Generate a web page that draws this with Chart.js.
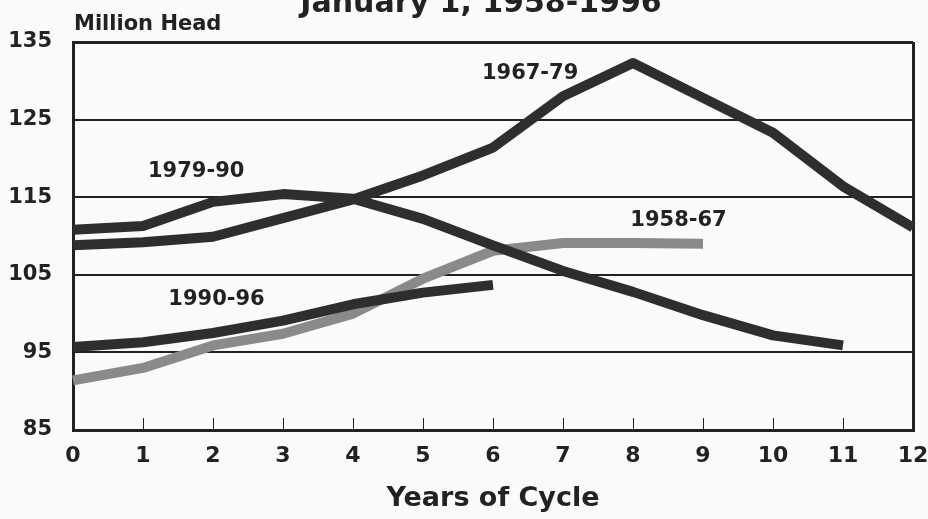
<!DOCTYPE html>
<html>
<head>
<meta charset="utf-8">
<script src="https://cdn.jsdelivr.net/npm/chart.js@4.4.1/dist/chart.umd.min.js"></script>
<style>
  html, body { margin: 0; padding: 0; background: #fafafa; }
  #wrap { width: 928px; height: 519px; }
</style>
</head>
<body>
<div id="wrap"><canvas id="cycleChart" width="928" height="519"></canvas></div>
<script>
// Years into each cattle cycle
const years = ['0', '1', '2', '3', '4', '5', '6', '7', '8', '9', '10', '11', '12'];
const yTicks = [85, 95, 105, 115, 125, 135];

// Cattle inventory, million head, by cycle
const cycle5867 = [91.4, 93.0, 95.9, 97.4, 100.0, 104.5, 108.1, 109.1, 109.1, 109.0];
const cycle6779 = [108.8, 109.2, 109.9, 112.3, 114.7, 117.8, 121.4, 128.0, 132.3, 127.8, 123.3, 116.4, 111.1];
const cycle7990 = [110.8, 111.3, 114.4, 115.4, 114.8, 112.2, 108.8, 105.5, 102.8, 99.8, 97.2, 95.9];
const cycle9096 = [95.7, 96.3, 97.5, 99.1, 101.2, 102.7, 103.7];

// Where the cycle names sit, in data units (year, million head)
const seriesLabels = [
    { text: '1967-79', x: 6.53, y: 131.0 },
    { text: '1979-90', x: 1.76, y: 118.4 },
    { text: '1958-67', x: 8.65, y: 112.1 },
    { text: '1990-96', x: 2.05, y: 101.9 }
];

const ink = '#222222';
const dark = '#2e2e2e';
const grey = '#8a8a8a';
const boldFont = size => ({ family: 'DejaVu Sans', weight: 'bold', size: size });

// background, inside tick marks and all the free text
const decorations = {
    id: 'decorations',
    beforeDraw(chart) {
        const c = chart.ctx;
        c.save();
        c.fillStyle = '#fafafa';
        c.fillRect(0, 0, chart.width, chart.height);
        c.restore();
    },
    beforeDatasetsDraw(chart) {
        const c = chart.ctx;
        const xs = chart.scales.x;
        const bottom = chart.chartArea.bottom;
        c.save();
        c.strokeStyle = ink;
        c.lineWidth = 1;
        for (let i = 1; i < years.length - 1; i++) {
            const px = Math.round(xs.getPixelForValue(i)) + 0.5;
            c.beginPath();
            c.moveTo(px, bottom);
            c.lineTo(px, bottom - 12);
            c.stroke();
        }
        c.restore();
    },
    afterDraw(chart) {
        const c = chart.ctx;
        const xs = chart.scales.x;
        const ys = chart.scales.y;
        c.save();
        c.fillStyle = ink;

        c.font = 'bold 30px "DejaVu Sans"';
        c.textAlign = 'center';
        c.textBaseline = 'alphabetic';
        c.fillText('January 1, 1958-1996', 481, 12);

        c.font = 'bold 21px "DejaVu Sans"';
        c.textAlign = 'left';
        c.fillText('Million Head', chart.chartArea.left + 1, 30);

        c.font = 'bold 21px "DejaVu Sans"';
        c.textAlign = 'center';
        c.textBaseline = 'middle';
        seriesLabels.forEach(l => {
            c.fillText(l.text, xs.getPixelForValue(l.x), ys.getPixelForValue(l.y) + 1);
        });
        c.restore();
    }
};

const line = (label, data, color) => ({
    label: label,
    data: data,
    borderColor: color,
    backgroundColor: color,
    borderWidth: 10,
    borderCapStyle: 'butt',
    borderJoinStyle: 'round',
    pointRadius: 0,
    tension: 0,
    fill: false
});

const ctx = document.getElementById('cycleChart').getContext('2d');
const cycleChart = new Chart(ctx, {
    type: 'line',
    data: {
        labels: years,
        datasets: [
            line('1967-79', cycle6779, dark),
            line('1979-90', cycle7990, dark),
            line('1990-96', cycle9096, dark),
            line('1958-67', cycle5867, grey)
        ]
    },
    plugins: [decorations],
    options: {
        responsive: false,
        animation: false,
        layout: { padding: { top: 42, right: 0, bottom: 0, left: 0 } },
        plugins: {
            legend: { display: false },
            title: { display: false },
            tooltip: { enabled: false }
        },
        scales: {
            x: {
                type: 'category',
                offset: false,
                border: { display: true, color: ink, width: 3 },
                grid: {
                    drawTicks: false,
                    color: c => c.index === years.length - 1 ? ink : 'rgba(0,0,0,0)',
                    lineWidth: 3
                },
                ticks: {
                    color: ink,
                    font: boldFont(22),
                    padding: 13,
                    maxRotation: 0,
                    autoSkip: false
                },
                title: {
                    display: true,
                    text: 'Years of Cycle',
                    color: ink,
                    font: boldFont(27),
                    padding: { top: 0, bottom: 4 }
                },
                afterFit: s => {
                    s.height = 89;
                    s.paddingLeft = 0;
                    s.paddingRight = 15;
                }
            },
            y: {
                min: yTicks[0],
                max: yTicks[yTicks.length - 1],
                afterBuildTicks: s => { s.ticks = yTicks.map(v => ({ value: v })); },
                border: { display: true, color: ink, width: 3 },
                grid: {
                    drawTicks: false,
                    color: ink,
                    lineWidth: c => c.tick && c.tick.value === 135 ? 3 : 2
                },
                ticks: {
                    color: ink,
                    font: boldFont(21),
                    padding: 21
                },
                afterFit: s => { s.width = 73; }
            }
        }
    }
});
</script>
</body>
</html>
